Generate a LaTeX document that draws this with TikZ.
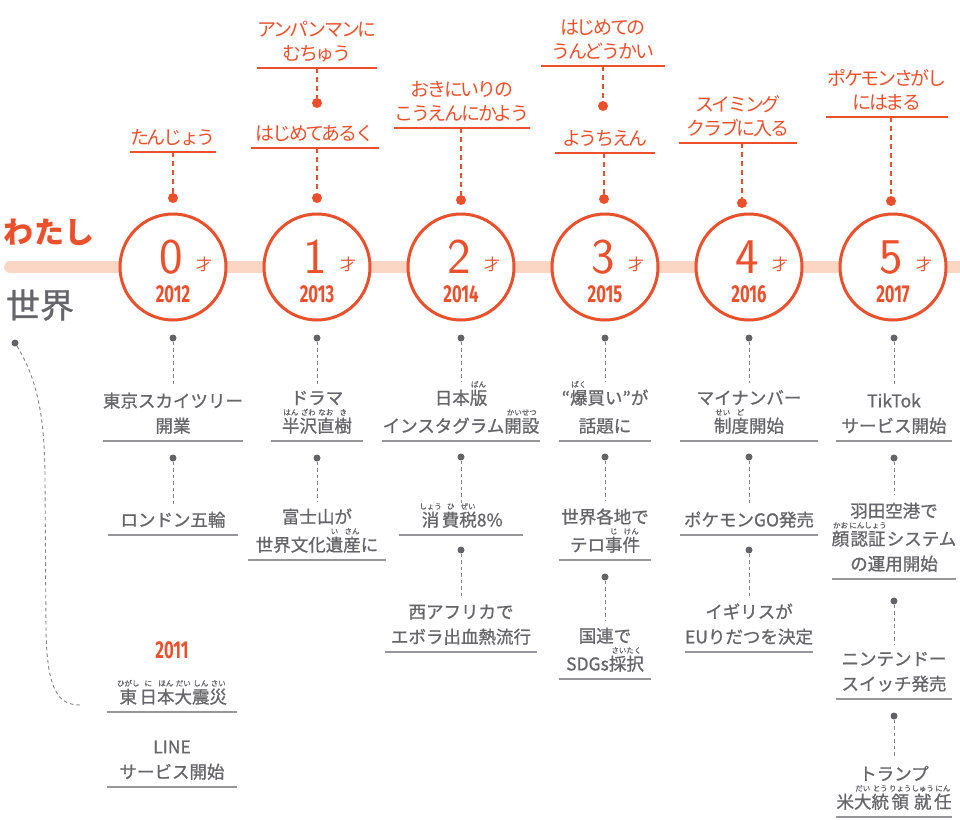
\documentclass[tikz,border=0pt]{standalone}
\usepackage{fontspec}
\usepackage{tikz}
\setmainfont{Noto Sans CJK JP}
\newfontfamily\yearfont[FakeStretch=0.68]{Fira Sans}
\newfontfamily\evfont[FakeBold=1]{Noto Sans CJK JP}
\newfontfamily\hwfont[LetterSpace=-12]{Noto Sans CJK JP}

\definecolor{orng}{RGB}{234,80,44}
\definecolor{peach}{RGB}{252,214,196}
\definecolor{gtxt}{RGB}{102,102,106}
\definecolor{gln}{RGB}{150,150,154}
\definecolor{gdt}{RGB}{100,100,104}

% furigana over a base word
\newdimen\furiwd
\newcommand{\furifont}{\mdseries\fontsize{7.5}{7.5}\selectfont}
\newcommand{\furi}[2]{%
  \setbox1=\hbox{\furifont #2}\setbox0=\hbox{#1}%
  \furiwd=\wd0 \ifdim\wd1>\furiwd \furiwd=\wd1 \fi
  \hbox to\furiwd{\hss\copy0\hss}%
  \llap{\hbox to\furiwd{\hss\raisebox{0.98em}[0pt][0pt]{\copy1}\hss}}}

\tikzset{
  bar/.style={draw=peach, line width=12pt, line cap=round},
  agecircle/.style={circle, draw=orng, line width=3pt, fill=white, minimum size=106pt, inner sep=0pt},
  agenum/.style={text=orng, font=\sffamily\fontsize{50}{50}\selectfont, inner sep=0pt},
  sai/.style={text=orng, font=\fontsize{16}{16}\selectfont, inner sep=0pt},
  year/.style={text=orng, font=\yearfont\bfseries\fontsize{24.5}{24.5}\selectfont, inner sep=0pt},
  tl/.style={anchor=south, align=center, text=orng, inner xsep=0pt, inner ysep=6pt, font=\hwfont\fontsize{19}{24}\selectfont},
  ev/.style={anchor=south, align=center, text=gtxt, inner xsep=0pt, inner ysep=7pt, font=\evfont\fontsize{17.5}{25}\selectfont},
  oline/.style={draw=orng, line width=2.4pt},
  uline/.style={draw=gln, line width=2pt},
  odash/.style={draw=orng, line width=2.2pt, dash pattern=on 5pt off 4pt},
  gdash/.style={draw=gdt!80, line width=0.9pt, dash pattern=on 3.5pt off 3pt},
  odot/.style={circle, fill=orng, inner sep=0pt, minimum size=10pt},
  gdot/.style={circle, fill=gdt, inner sep=0pt, minimum size=7pt}
}

\begin{document}
\begin{tikzpicture}[x=1pt,y=-1pt]
  \useasboundingbox (0,0) rectangle (960,819);
  % Timeline
  \coordinate (barL) at (10,267);
  \coordinate (barR) at (968,267);
  \draw[bar] (barL) -- (barR);
  \node[text=orng, font=\bfseries\fontsize{30}{30}\selectfont] (me) at (49,232) {わたし};
  \node[text=gtxt, font=\evfont\fontsize{34}{34}\selectfont] (world) at (40,305) {世界};
  % Ages
  \node[agecircle] (c0) at (173,267) {};
  \node[agecircle] (c1) at (317,267) {};
  \node[agecircle] (c2) at (461,267) {};
  \node[agecircle] (c3) at (605,267) {};
  \node[agecircle] (c4) at (749,267) {};
  \node[agecircle] (c5) at (893,267) {};
  \node[agenum] (n0) at ([xshift=-2pt,yshift=10pt]c0.center) {0};
  \node[agenum] (n1) at ([xshift=-2pt,yshift=10pt]c1.center) {1};
  \node[agenum] (n2) at ([xshift=-2pt,yshift=10pt]c2.center) {2};
  \node[agenum] (n3) at ([xshift=-2pt,yshift=10pt]c3.center) {3};
  \node[agenum] (n4) at ([xshift=-2pt,yshift=10pt]c4.center) {4};
  \node[agenum] (n5) at ([xshift=-2pt,yshift=10pt]c5.center) {5};
  \node[sai] (s0) at ([xshift=31pt,yshift=3pt]c0.center) {才};
  \node[sai] (s1) at ([xshift=31pt,yshift=3pt]c1.center) {才};
  \node[sai] (s2) at ([xshift=31pt,yshift=3pt]c2.center) {才};
  \node[sai] (s3) at ([xshift=31pt,yshift=3pt]c3.center) {才};
  \node[sai] (s4) at ([xshift=31pt,yshift=3pt]c4.center) {才};
  \node[sai] (s5) at ([xshift=31pt,yshift=3pt]c5.center) {才};
  \node[year] (y0) at ([yshift=-27pt]c0.center) {2012};
  \node[year] (y1) at ([yshift=-27pt]c1.center) {2013};
  \node[year] (y2) at ([yshift=-27pt]c2.center) {2014};
  \node[year] (y3) at ([yshift=-27pt]c3.center) {2015};
  \node[year] (y4) at ([yshift=-27pt]c4.center) {2016};
  \node[year] (y5) at ([yshift=-27pt]c5.center) {2017};
  % Watashi
  \node[tl, minimum width=84pt] (t0) at (173,152) {たんじょう};
  \node[odot] (p0) at (173,198) {};
  \node[tl, minimum width=120pt] (t1a) at (317,68) {アンパンマンに\\むちゅう};
  \node[odot] (q1) at (317,103) {};
  \node[tl, minimum width=128pt] (t1b) at (315,148) {はじめてあるく};
  \node[odot] (p1) at (317,198) {};
  \node[tl, minimum width=125pt] (t2) at (462,128) {おきにいりの\\こうえんにかよう};
  \node[odot] (p2) at (461,200) {};
  \node[tl, minimum width=123pt] (t3a) at (603,66) {はじめての\\うんどうかい};
  \node[odot] (q3) at (603,106) {};
  \node[tl, minimum width=99pt] (t3b) at (605,153) {ようちえん};
  \node[odot] (p3) at (604,199) {};
  \node[tl, minimum width=117pt] (t4) at (738,143) {スイミング\\クラブに入る};
  \node[odot] (p4) at (742,203) {};
  \node[tl, minimum width=121pt] (t5) at (887,117) {ポケモンさがし\\にはまる};
  \node[odot] (p5) at (891,201) {};
  \draw[oline] (t0.south west) -- (t0.south east);
  \draw[oline] (t1a.south west) -- (t1a.south east);
  \draw[oline] (t1b.south west) -- (t1b.south east);
  \draw[oline] (t2.south west) -- (t2.south east);
  \draw[oline] (t3a.south west) -- (t3a.south east);
  \draw[oline] (t3b.south west) -- (t3b.south east);
  \draw[oline] (t4.south west) -- (t4.south east);
  \draw[oline] (t5.south west) -- (t5.south east);
  \draw[odash] (t0.south -| p0) -- (p0);
  \draw[odash] (t1a.south -| q1) -- (q1);
  \draw[odash] (t1b.south -| p1) -- (p1);
  \draw[odash] (t2.south -| p2) -- (p2);
  \draw[odash] (t3a.south -| q3) -- (q3);
  \draw[odash] (t3b.south -| p3) -- (p3);
  \draw[odash] (t4.south -| p4) -- (p4);
  \draw[odash] (t5.south -| p5) -- (p5);
  % Sekai: 2012
  \node[gdot] (g0a) at (173,338) {};
  \node[ev, minimum width=130pt] (e0a) at (173,441) {東京スカイツリー\\開業};
  \node[gdot] (g0b) at (173,458) {};
  \node[ev, minimum width=130pt] (e0b) at (173,535) {ロンドン五輪};
  % Sekai: 2011
  \node[gdot] (w0) at (15,343) {};
  \coordinate (wend) at (80,705);
  \node[year] (y11) at (172,650) {2011};
  \node[ev, minimum width=130pt] (e0c) at (172,712) {\furi{東}{ひがし}\furi{日}{に}\furi{本}{ほん}\furi{大}{だい}\furi{震}{しん}\furi{災}{さい}};
  \node[ev, minimum width=130pt] (e0d) at (172,787) {LINE\\サービス開始};
  % Sekai: 2013
  \node[gdot] (g1a) at (317,338) {};
  \node[ev, minimum width=92pt] (e1a) at (317,441) {ドラマ\\[3pt]\furi{半}{はん}\furi{沢}{ざわ}\furi{直}{なお}\furi{樹}{き}};
  \node[gdot] (g1b) at (317,458) {};
  \node[ev, minimum width=138pt] (e1b) at (317,560) {富士山が\\[3pt]世界文化\furi{遺}{い}\furi{産}{さん}に};
  % Sekai: 2014
  \node[gdot] (g2a) at (461,338) {};
  \node[ev, minimum width=152pt] (e2a) at (461,441) {日本\furi{版}{ばん}\\[3pt]インスタグラム\furi{開設}{かいせつ}};
  \node[gdot] (g2b) at (461,457) {};
  \node[ev, minimum width=124pt] (e2b) at (461,535) {\furi{消}{しょう}\furi{費}{ひ}\furi{税}{ぜい}8\%};
  \node[gdot] (g2c) at (461,550) {};
  \node[ev, minimum width=152pt] (e2c) at (461,652) {西アフリカで\\エボラ出血熱流行};
  % Sekai: 2015
  \node[gdot] (g3a) at (605,338) {};
  \node[ev, minimum width=92pt] (e3a) at (605,441) {“\furi{爆}{ばく}買い”が\\[3pt]話題に};
  \node[gdot] (g3b) at (605,457) {};
  \node[ev, minimum width=92pt] (e3b) at (605,560) {世界各地で\\[3pt]テロ\furi{事}{じ}\furi{件}{けん}};
  \node[gdot] (g3c) at (605,577) {};
  \node[ev, minimum width=92pt] (e3c) at (605,679) {国連で\\[3pt]SDGs\furi{採択}{さいたく}};
  % Sekai: 2016
  \node[gdot] (g4a) at (749,338) {};
  \node[ev, minimum width=137pt] (e4a) at (749,441) {マイナンバー\\[3pt]\furi{制}{せい}\furi{度}{ど}開始};
  \node[gdot] (g4b) at (749,457) {};
  \node[ev, minimum width=137pt] (e4b) at (749,535) {ポケモンGO発売};
  \node[gdot] (g4c) at (749,550) {};
  \node[ev, minimum width=127pt] (e4c) at (749,652) {イギリスが\\EUりだつを決定};
  % Sekai: 2017
  \node[gdot] (g5a) at (894,338) {};
  \node[ev, minimum width=116pt] (e5a) at (894,441) {TikTok\\サービス開始};
  \node[gdot] (g5b) at (894,458) {};
  \node[ev, minimum width=116pt] (e5b) at (894,579) {羽田空港で\\[3pt]\furi{顔}{かお}\furi{認証}{にんしょう}システム\\の運用開始};
  \node[gdot] (g5c) at (894,601) {};
  \node[ev, minimum width=116pt] (e5c) at (894,699) {ニンテンドー\\スイッチ発売};
  \node[gdot] (g5d) at (894,716) {};
  \node[ev, minimum width=116pt] (e5d) at (894,817) {トランプ\\[3pt]米\furi{大}{だい}\furi{統}{とう}\furi{領}{りょう}\furi{就}{しゅう}\furi{任}{にん}};
  % Underlines
  \draw[uline] (e0a.south west) -- (e0a.south east);
  \draw[uline] (e0b.south west) -- (e0b.south east);
  \draw[uline] (e0c.south west) -- (e0c.south east);
  \draw[uline] (e0d.south west) -- (e0d.south east);
  \draw[uline] (e1a.south west) -- (e1a.south east);
  \draw[uline] (e1b.south west) -- (e1b.south east);
  \draw[uline] (e2a.south west) -- (e2a.south east);
  \draw[uline] (e2b.south west) -- (e2b.south east);
  \draw[uline] (e2c.south west) -- (e2c.south east);
  \draw[uline] (e3a.south west) -- (e3a.south east);
  \draw[uline] (e3b.south west) -- (e3b.south east);
  \draw[uline] (e3c.south west) -- (e3c.south east);
  \draw[uline] (e4a.south west) -- (e4a.south east);
  \draw[uline] (e4b.south west) -- (e4b.south east);
  \draw[uline] (e4c.south west) -- (e4c.south east);
  \draw[uline] (e5a.south west) -- (e5a.south east);
  \draw[uline] (e5b.south west) -- (e5b.south east);
  \draw[uline] (e5c.south west) -- (e5c.south east);
  \draw[uline] (e5d.south west) -- (e5d.south east);
  % Dotted links
  \draw[gdash] (g0a) -- (e0a);
  \draw[gdash] (g0b) -- (e0b);
  \draw[gdash] (g1a) -- (e1a);
  \draw[gdash] (g1b) -- (e1b);
  \draw[gdash] (g2a) -- (e2a);
  \draw[gdash] (g2b) -- (e2b);
  \draw[gdash] (g2c) -- (e2c);
  \draw[gdash] (g3a) -- (e3a);
  \draw[gdash] (g3b) -- (e3b);
  \draw[gdash] (g3c) -- (e3c);
  \draw[gdash] (g4a) -- (e4a);
  \draw[gdash] (g4b) -- (e4b);
  \draw[gdash] (g4c) -- (e4c);
  \draw[gdash] (g5a) -- (e5a);
  \draw[gdash] (g5b) -- (e5b);
  \draw[gdash] (g5c) -- (e5c);
  \draw[gdash] (g5d) -- (e5d);
  \draw[gdash] (w0) .. controls (38,380) and (45,420) .. (45,480) -- (46,630) .. controls (47,690) and (58,705) .. (wend);
\end{tikzpicture}
\end{document}
